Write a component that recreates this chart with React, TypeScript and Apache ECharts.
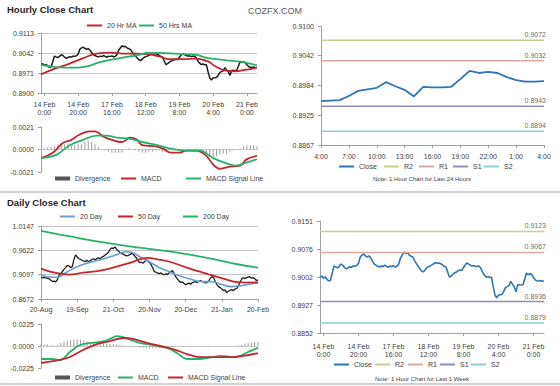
import React, { useEffect, useRef } from "react";
import * as echarts from "echarts";

const FONT = "'Liberation Sans', Arial, sans-serif";

// ---------- Hourly (last 1 week), x = hour index ----------
const hourlyXTicks = [2, 22, 42, 62, 82, 102, 122];
const hourlyXLabels = ["14 Feb\n0:00", "14 Feb\n20:00", "17 Feb\n16:00", "18 Feb\n12:00", "19 Feb\n8:00", "20 Feb\n4:00", "21 Feb\n0:00"];
const hourlyPriceTicks = ["0.8900", "0.8971", "0.9042", "0.9113"];
const hourlyMacdTicks = ["-0.0021", "0.0000", "0.0021"];

const hourlyClose = [
  0.9001, 0.9004, 0.8998, 0.9002, 0.8995, 0.8991, 0.8993, 0.9012, 0.9031, 0.9028,
  0.9026, 0.9030, 0.9036, 0.9033, 0.9027, 0.9023, 0.9026, 0.9029, 0.9027, 0.9031,
  0.9030, 0.9032, 0.9038, 0.9055, 0.9060, 0.9063, 0.9058, 0.9055, 0.9058, 0.9052,
  0.9044, 0.9036, 0.9033, 0.9030, 0.9028, 0.9031, 0.9029, 0.9033, 0.9030, 0.9027,
  0.9031, 0.9029, 0.9032, 0.9028, 0.9030, 0.9036, 0.9052, 0.9060, 0.9068, 0.9064,
  0.9066, 0.9060, 0.9057, 0.9055, 0.9046, 0.9038, 0.9031, 0.9024, 0.9018, 0.9015,
  0.9020, 0.9026, 0.9029, 0.9031, 0.9034, 0.9037, 0.9040, 0.9038, 0.9039, 0.9037,
  0.9034, 0.9030, 0.9028, 0.9014, 0.9001, 0.9004, 0.9009, 0.9013, 0.9015, 0.9018,
  0.9020, 0.9019, 0.9027, 0.9034, 0.9039, 0.9036, 0.9033, 0.9031, 0.9032, 0.9029,
  0.9031, 0.9030, 0.9024, 0.9013, 0.9006, 0.9001, 0.9003, 0.9000, 0.9001, 0.8975,
  0.8953, 0.8946, 0.8953, 0.8954, 0.8955, 0.8963, 0.8973, 0.8976, 0.8979, 0.8990,
  0.8982, 0.8975, 0.8962, 0.8981, 0.8980, 0.8980, 0.8981, 0.8996, 0.9012, 0.9008,
  0.9010, 0.9008, 0.9000, 0.8994, 0.8991, 0.8991, 0.8992, 0.8990, 0.8991,
];

const hourlyMA20 = [
  [0, 0.8966], [9.5, 0.8989], [17, 0.9004], [25, 0.9024], [33, 0.9040], [41, 0.9043],
  [48.5, 0.9040], [57, 0.9040], [63, 0.9038], [70, 0.9030], [76, 0.9020], [84, 0.9020],
  [92, 0.9022], [99, 0.9012], [103, 0.8996], [109, 0.8980], [115, 0.8977], [121, 0.8982], [128, 0.8990],
];
const hourlyMA50 = [
  [0, 0.9000], [5, 0.8995], [10, 0.8991], [22, 0.8990], [28, 0.8995], [35, 0.9010], [47, 0.9024],
  [57, 0.9034], [63, 0.9042], [70, 0.9042], [84, 0.9038], [92, 0.9035], [99, 0.9024],
  [110, 0.9016], [115, 0.9013], [121, 0.9008], [128, 0.8998],
];
const hourlyMacd = [
  [0, -0.0008], [7, -0.0003], [13, 0.0006], [18, 0.0009], [23, 0.0014], [29, 0.0017], [32, 0.0017],
  [37, 0.0012], [42, 0.0009], [48, 0.0007], [53, 0.0011], [57, 0.0009], [60, 0.0004], [68, 0.0003],
  [72, 0.0001], [77, -0.0003], [82, -0.0003], [86, -0.0001], [92, -0.0001], [98, -0.0006],
  [102, -0.0014], [106, -0.0018], [112, -0.0016], [118, -0.0015], [122, -0.0009], [128, -0.0006],
];
const hourlySignal = [
  [0, -0.0008], [9, -0.0005], [17, 0.0004], [25, 0.0009], [33, 0.0013], [39, 0.0013], [45, 0.0011],
  [53, 0.0010], [60, 0.0007], [69, 0.0004], [76, 0.0001], [86, -0.0001], [94, -0.0001], [102, -0.0008],
  [110, -0.0013], [115, -0.0015], [122, -0.0012], [128, -0.0009],
];
// one bar every 2 hours
const hourlyDivergence = [
  0.0000, 0.0001, 0.0002, 0.0002, 0.0003, 0.0005, 0.0006, 0.0005, 0.0005, 0.0004,
  0.0004, 0.0005, 0.0005, 0.0007, 0.0008, 0.0007, 0.0005, 0.0002, 0.0000, -0.0001,
  -0.0002, -0.0003, -0.0003, -0.0003, -0.0003, 0.0000, 0.0001, 0.0000, -0.0001, -0.0002,
  -0.0003, -0.0003, -0.0002, -0.0002, -0.0001, -0.0001, -0.0002, -0.0002, -0.0001, -0.0001,
  0.0000, 0.0000, 0.0000, 0.0000, 0.0000, 0.0000, 0.0000, -0.0001, -0.0002, -0.0004,
  -0.0006, -0.0007, -0.0006, -0.0005, -0.0004, -0.0004, -0.0002, -0.0001, 0.0000, 0.0001,
  0.0003, 0.0004, 0.0004, 0.0004, 0.0003,
];

// ---------- Last 24 hours ----------
const last24Labels = ["4:00", "7:00", "10:00", "13:00", "16:00", "19:00", "22:00", "1:00", "4:00"];
const last24Ticks = ["0.8867", "0.8925", "0.8984", "0.9042", "0.9100"];
const last24Close = [
  0.8953, 0.8954, 0.8955, 0.8963, 0.8973, 0.8976, 0.8979, 0.8990, 0.8982, 0.8975,
  0.8962, 0.8981, 0.8980, 0.8980, 0.8981, 0.8996, 0.9012, 0.9008, 0.9010, 0.9008,
  0.9000, 0.8994, 0.8991, 0.8991, 0.8992,
];
const levelNames = ["R2", "R1", "S1", "S2"];
const last24Levels = [0.9072, 0.9032, 0.8943, 0.8894];
const weekLevels = [0.9123, 0.9067, 0.8936, 0.8879];
const weekTicks = ["0.8852", "0.8927", "0.9002", "0.9076", "0.9151"];

// ---------- Daily, x = trading-day index ----------
const dailyXLabels = ["20-Aug", "19-Sep", "21-Oct", "20-Nov", "20-Dec", "21-Jan", "20-Feb"];
const dailyPriceTicks = ["0.8672", "0.9097", "0.9622", "1.0147"];
const dailyMacdTicks = ["-0.0225", "0.0000", "0.0225"];
const dailyClose = [
  0.9046, 0.9030, 0.9040, 0.9028, 0.9015, 0.9005, 0.8975, 0.8950, 0.8960, 0.8940,
  0.8990, 0.9090, 0.9120, 0.9165, 0.9210, 0.9250, 0.9300, 0.9285, 0.9250, 0.9270,
  0.9420, 0.9525, 0.9480, 0.9445, 0.9430, 0.9400, 0.9395, 0.9380, 0.9410, 0.9375,
  0.9400, 0.9425, 0.9440, 0.9415, 0.9450, 0.9460, 0.9440, 0.9475, 0.9490, 0.9520,
  0.9545, 0.9580, 0.9640, 0.9675, 0.9660, 0.9697, 0.9640, 0.9610, 0.9575, 0.9550,
  0.9540, 0.9520, 0.9504, 0.9515, 0.9530, 0.9550, 0.9545, 0.9500, 0.9460, 0.9400,
  0.9354, 0.9370, 0.9345, 0.9375, 0.9418, 0.9400, 0.9360, 0.9311, 0.9240, 0.9161,
  0.9150, 0.9130, 0.9118, 0.9135, 0.9105, 0.9097, 0.9115, 0.9100, 0.9140, 0.9165,
  0.9183, 0.9120, 0.9050, 0.9000, 0.8960, 0.8926, 0.8940, 0.8905, 0.8883, 0.8900,
  0.8915, 0.8890, 0.8926, 0.8935, 0.8947, 0.8930, 0.8955, 0.8968, 0.8950, 0.8940,
  0.8920, 0.8926, 0.8960, 0.9020, 0.9054, 0.9033, 0.8950, 0.8883, 0.8840, 0.8818,
  0.8790, 0.8754, 0.8770, 0.8711, 0.8740, 0.8760, 0.8775, 0.8750, 0.8790, 0.8797,
  0.8850, 0.8926, 0.9000, 0.9033, 0.9010, 0.9033, 0.9045, 0.9054, 0.9020, 0.9033,
  0.9010, 0.8968, 0.8985,
];
const daily20 = [
  [0, 0.9090], [5, 0.9045], [10, 0.9040], [16, 0.9161], [25, 0.9311], [36, 0.9418], [44, 0.9504],
  [52, 0.9590], [56, 0.9568], [60, 0.9483], [66, 0.9375], [72, 0.9247], [78, 0.9161], [84, 0.9075],
  [90, 0.9011], [98, 0.8947], [104, 0.8947], [110, 0.8883], [116, 0.8840], [122, 0.8861], [132, 0.8926],
];
const daily50 = [
  [0, 0.9226], [5.5, 0.9161], [11.6, 0.9118], [17.6, 0.9097], [25.5, 0.9140], [36, 0.9183], [46, 0.9268],
  [56, 0.9375], [64.5, 0.9461], [72.4, 0.9418], [80.3, 0.9354], [88.8, 0.9247], [96.7, 0.9161],
  [104.6, 0.9075], [113, 0.8990], [119, 0.8935], [125, 0.8926], [132, 0.8930],
];
const daily200 = [
  [0, 1.0040], [16, 0.9933], [36, 0.9804], [56, 0.9697], [80, 0.9590], [101, 0.9461], [121, 0.9311], [132, 0.9247],
];
const dailyMacd = [
  [0, -0.0133], [7, -0.0133], [11.6, -0.0143], [17.6, -0.0061], [23.7, 0.0010], [29.8, 0.0031],
  [36, 0.0041], [42, 0.0072], [46, 0.0102], [50, 0.0092], [53, 0.0072], [60, 0.0031], [68, 0.0010],
  [76.6, -0.0020], [82.7, -0.0072], [88.8, -0.0133], [96.7, -0.0133], [104.6, -0.0113], [109, -0.0102],
  [117, -0.0113], [121, -0.0102], [126, -0.0061], [132, -0.0020],
];
const dailySignal = [
  [0, -0.0174], [11.6, -0.0143], [17.6, -0.0113], [25.5, -0.0041], [34, 0.0020], [42, 0.0051],
  [50, 0.0082], [56, 0.0072], [64.5, 0.0031], [72.4, 0.0000], [80.3, -0.0031], [88.8, -0.0082],
  [96.7, -0.0113], [104.6, -0.0113], [116.8, -0.0113], [123, -0.0102], [132, -0.0072],
];
// one bar every 2 days
const dailyDivergence = [
  0.0015, 0.0015, 0.0015, 0.0010, 0.0005, 0.0010, 0.0030, 0.0045, 0.0055, 0.0060,
  0.0065, 0.0068, 0.0065, 0.0055, 0.0045, 0.0035, 0.0030, 0.0025, 0.0025, 0.0025,
  0.0022, 0.0020, 0.0020, 0.0018, 0.0012, 0.0008, 0.0002, -0.0002, -0.0006, -0.0010,
  -0.0015, -0.0018, -0.0020, -0.0022, -0.0022, -0.0020, -0.0020, -0.0018, -0.0015, -0.0012,
  -0.0010, -0.0008, -0.0006, -0.0004, -0.0002, -0.0002, -0.0001, 0.0000, 0.0001, 0.0001,
  0.0002, 0.0002, 0.0001, 0.0001, 0.0000, 0.0000, -0.0001, 0.0000, 0.0001, 0.0002,
  0.0005, 0.0012, 0.0022, 0.0030, 0.0036, 0.0040, 0.0042,
];

// ---------- styles ----------
const RED = "#c1272d";
const GREEN = "#27b26b";
const BLUE = "#2e75b6";
const LIGHT_BLUE = "#6a9fd0";
const BLACK = "#1e1e1e";
const DIV_GRAY = "#9c9c9c";
const LEVEL_COLORS = ["#c6cf8f", "#d9aba0", "#8f8cc3", "#8ccfdc"];
const AXIS = "#a0a0a0";
const GRIDC = "#c4c4c4";
const TXT = "#404040";
// marker with a large bounding box but practically no area, so legend icons show plain lines
const NO_MARK = "path://M0,0L0.01,0L0,0.01Z M100,100L99.99,100L100,99.99Z";

function yAxisFor(gridIndex: number, min: number, max: number, labels: string[], split: boolean) {
  const step = (max - min) / (labels.length - 1);
  const ticks = labels.map((_, i) => min + step * i);
  return {
    type: "value", gridIndex, min, max,
    axisLine: { show: true, lineStyle: { color: AXIS } },
    axisTick: { show: true, length: 3, customValues: ticks, lineStyle: { color: AXIS } },
    axisLabel: {
      customValues: ticks,
      formatter: (v: number) => labels[Math.round((v - min) / step)] ?? "",
      fontSize: 7, color: TXT, fontFamily: FONT, margin: 7,
    },
    splitLine: { show: split, lineStyle: { color: GRIDC, width: 1 } },
  };
}

function xAxisFor(gridIndex: number, min: number, max: number, ticks: number[] | null, labels: string[] | null, margin = 7) {
  if (!ticks || !labels) {
    return {
      type: "value", gridIndex, min, max,
      axisLine: { show: true, onZero: true, lineStyle: { color: "#c8c8c8" } },
      axisTick: { show: false }, axisLabel: { show: false }, splitLine: { show: false },
    };
  }
  return {
    type: "value", gridIndex, min, max,
    axisLine: { show: true, onZero: false, lineStyle: { color: AXIS } },
    axisTick: { show: true, length: 3, customValues: ticks, lineStyle: { color: AXIS } },
    axisLabel: {
      customValues: ticks,
      formatter: (v: number) => { const k = ticks.indexOf(Math.round(v)); return k >= 0 ? labels[k] : ""; },
      fontSize: 7, lineHeight: 8, color: TXT, fontFamily: FONT, margin,
    },
    splitLine: { show: false },
  };
}

function legendAt(name: string, left: number, cy: number, thick = false) {
  return {
    show: true, left, top: cy - 4, padding: 0, itemGap: 0, itemWidth: 15, itemHeight: thick ? 4 : 6,
    selectedMode: false,
    itemStyle: { borderWidth: 0 },
    data: [thick ? { name, icon: "rect", itemStyle: { color: "#555555", borderWidth: 0 } } : { name }],
    formatter: (n: string) => n.split("|")[0],
    textStyle: { fontSize: 7, color: TXT, fontFamily: FONT },
  };
}

function lineSeries(name: string, xi: number, data: any[], color: string, width: number, smooth: number | boolean = false, z = 2) {
  return {
    name, type: "line", xAxisIndex: xi, yAxisIndex: xi, data, symbol: NO_MARK, symbolSize: 1, showSymbol: false, smooth, z,
    lineStyle: { color, width }, itemStyle: { color, borderWidth: 0 }, silent: true,
  };
}

function levelSeries(suffix: string, xi: number, xMax: number, values: number[]) {
  const out: any[] = [];
  values.forEach((v, k) => {
    out.push(lineSeries(`${levelNames[k]}|${suffix}`, xi, [[0, v], [xMax, v]], LEVEL_COLORS[k], 1.5));
    out.push({
      name: `lbl${k}|${suffix}`, type: "scatter", xAxisIndex: xi, yAxisIndex: xi, silent: true,
      symbol: "circle", symbolSize: 0, data: [[xMax, v]],
      label: {
        show: true, position: "top", distance: 2, align: "right", offset: [2, 0],
        formatter: v.toFixed(4), fontSize: 7, color: TXT, fontFamily: FONT,
      },
    });
  });
  return out;
}

function buildOption() {
  const divH = hourlyDivergence.map((v, i) => [i * 2, v]);
  const divD = dailyDivergence.map((v, i) => [i * 2, v]);
  const textEl = (text: string, x: number, y: number, size: number, bold = false, align = "left", fill = "#262626") => ({
    type: "text", x, y, silent: true,
    style: {
      text, fill, font: `${bold ? "bold " : ""}${size}px ${FONT}`,
      textAlign: align, textVerticalAlign: "middle", align, verticalAlign: "middle",
    },
  });
  return {
    animation: false,
    backgroundColor: "#ffffff",
    grid: [
      { left: 41, top: 33, width: 216, height: 60 },
      { left: 41, top: 127, width: 216, height: 45 },
      { left: 321, top: 26, width: 223, height: 119 },
      { left: 41, top: 226, width: 217, height: 73 },
      { left: 41, top: 324, width: 217, height: 44 },
      { left: 320, top: 221, width: 224, height: 112 },
    ],
    xAxis: [
      xAxisFor(0, 0, 128, hourlyXTicks, hourlyXLabels, 7),
      xAxisFor(1, 0, 128, null, null),
      xAxisFor(2, 0, 24, [0, 3, 6, 9, 12, 15, 18, 21, 24], last24Labels, 7),
      xAxisFor(3, 0, 132, [0, 22, 44, 66, 88, 110, 132], dailyXLabels, 6),
      xAxisFor(4, 0, 132, null, null),
      xAxisFor(5, 0, 128, hourlyXTicks, hourlyXLabels, 9),
    ],
    yAxis: [
      yAxisFor(0, 0.89, 0.9113, hourlyPriceTicks, true),
      yAxisFor(1, -0.0021, 0.0021, hourlyMacdTicks, false),
      yAxisFor(2, 0.8867, 0.91, last24Ticks, false),
      yAxisFor(3, 0.8572, 1.0147, dailyPriceTicks, true),
      yAxisFor(4, -0.0225, 0.0225, dailyMacdTicks, false),
      yAxisFor(5, 0.8852, 0.9151, weekTicks, false),
    ],
    legend: [
      legendAt("20 Hr MA", 86, 26),
      legendAt("50 Hrs MA", 138, 26),
      legendAt("Divergence|h", 55, 179, true),
      legendAt("MACD|h", 120, 179),
      legendAt("MACD Signal Line|h", 185, 179),
      legendAt("Close|24", 338, 167),
      legendAt("R2|24", 383, 167),
      legendAt("R1|24", 418, 167),
      legendAt("S1|24", 452, 167),
      legendAt("S2|24", 483, 167),
      legendAt("20 Day", 59, 217),
      legendAt("50 Day", 117, 217),
      legendAt("200 Day", 182, 217),
      legendAt("Divergence|d", 55, 378, true),
      legendAt("MACD|d", 117, 378),
      legendAt("MACD Signal Line|d", 167, 378),
      legendAt("Close|wk", 333, 365),
      legendAt("R2|wk", 374, 365),
      legendAt("R1|wk", 407, 365),
      legendAt("S1|wk", 439, 365),
      legendAt("S2|wk", 470, 365),
    ],
    series: [
      lineSeries("Close|h", 0, hourlyClose.map((v, i) => [i, v]), BLACK, 1.5, false, 2),
      lineSeries("20 Hr MA", 0, hourlyMA20, RED, 1.8, 0.4, 3),
      lineSeries("50 Hrs MA", 0, hourlyMA50, GREEN, 1.8, 0.4, 3),
      { name: "Divergence|h", type: "bar", xAxisIndex: 1, yAxisIndex: 1, data: divH, barWidth: 1, itemStyle: { color: DIV_GRAY }, silent: true },
      lineSeries("MACD|h", 1, hourlyMacd, RED, 1.8, 0.4, 3),
      lineSeries("MACD Signal Line|h", 1, hourlySignal, GREEN, 1.8, 0.4, 3),
      lineSeries("Close|24", 2, last24Close.map((v, i) => [i, v]), BLUE, 1.8),
      ...levelSeries("24", 2, 24, last24Levels),
      lineSeries("Close|d", 3, dailyClose.map((v, i) => [i, v]), BLACK, 1.3, false, 2),
      lineSeries("20 Day", 3, daily20, LIGHT_BLUE, 1.6, 0.4, 3),
      lineSeries("50 Day", 3, daily50, RED, 1.8, 0.4, 3),
      lineSeries("200 Day", 3, daily200, GREEN, 1.8, 0.4, 3),
      { name: "Divergence|d", type: "bar", xAxisIndex: 4, yAxisIndex: 4, data: divD, barWidth: 1, itemStyle: { color: DIV_GRAY }, silent: true },
      lineSeries("MACD|d", 4, dailyMacd, GREEN, 1.8, 0.4, 3),
      lineSeries("MACD Signal Line|d", 4, dailySignal, RED, 1.8, 0.4, 3),
      lineSeries("Close|wk", 5, hourlyClose.map((v, i) => [i, v]), BLUE, 1.6),
      ...levelSeries("wk", 5, 128, weekLevels),
    ],
    graphic: [
      { type: "rect", silent: true, shape: { x: 0, y: 191, width: 560, height: 2 }, style: { fill: "#d0d0d0" } },
      { type: "rect", silent: true, shape: { x: 0, y: 383, width: 560, height: 2 }, style: { fill: "#d0d0d0" } },
      textEl("Hourly Close Chart", 7, 9, 9.5, true),
      textEl("Daily Close Chart", 7, 202, 9.5, true),
      textEl("COZFX.COM", 248, 11, 9, false, "left", "#595959"),
      textEl("Note: 1 Hour Chart for Last 24 Hours", 422, 179, 6, false, "center", TXT),
      textEl("Note: 1 Hour Chart for Last 1 Week", 422, 379, 6, false, "center", TXT),
    ],
  };
}

export default function App() {
  const ref = useRef<HTMLDivElement>(null);
  useEffect(() => {
    if (!ref.current) return;
    const chart = echarts.init(ref.current, undefined, { renderer: "svg" });
    chart.setOption(buildOption() as any);
    return () => chart.dispose();
  }, []);
  return (
    <div style={{ position: "absolute", left: 0, top: 0, width: 560, height: 386, background: "#fff" }}>
      <div ref={ref} style={{ width: 560, height: 386 }} />
    </div>
  );
}
